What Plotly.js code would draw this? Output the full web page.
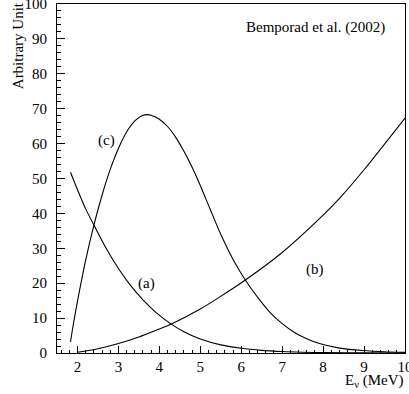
<!DOCTYPE html>
<html>
<head>
<meta charset="utf-8">
<script src="https://cdn.plot.ly/plotly-3.0.1.min.js"></script>
<style>html,body{margin:0;padding:0;background:#fff;}#chart{width:409px;height:394px;}</style>
</head>
<body>
<div id="chart"></div>
<script>
// Curve (a)
const aX = [1.83, 2.0, 2.2, 2.43, 2.7, 3.0, 3.3, 3.6, 3.9, 4.3, 4.6, 5.0, 5.5, 6.0, 6.5, 7.0, 7.5, 8.0, 9.0, 10.0];
const aY = [51.8, 46.8, 41.3, 36.0, 30.0, 24.2, 19.3, 15.2, 11.8, 8.2, 6.1, 4.0, 2.33, 1.35, 0.76, 0.42, 0.23, 0.12, 0.035, 0.01];
// Curve (b)
const bX = [2.0, 2.5, 3.0, 3.5, 4.0, 4.31, 5.0, 5.47, 6.1, 7.0, 8.0, 8.4, 9.0, 10.0];
const bY = [0.2, 1.2, 2.7, 4.6, 6.9, 8.4, 12.6, 16.0, 20.9, 28.8, 39.5, 44.3, 52.5, 67.3];
// Curve (c)
const cX = [1.83, 1.9, 2.0, 2.2, 2.4, 2.6, 2.8, 3.0, 3.2, 3.4, 3.6, 3.7, 3.8, 4.0, 4.2, 4.4, 4.6, 4.8, 5.0, 5.23, 5.5, 5.8, 6.1, 6.45, 6.69, 7.0, 7.3, 7.6, 7.91, 8.4, 8.97, 9.5, 10.0];
const cY = [3.2, 8.3, 14.8, 26.6, 36.6, 45.2, 52.6, 58.6, 63.3, 66.5, 68.1, 68.3, 68.1, 67.0, 64.9, 61.8, 57.8, 53.2, 48.0, 41.5, 34.0, 26.8, 20.9, 15.2, 11.8, 8.4, 5.9, 4.1, 2.7, 1.4, 0.7, 0.35, 0.18];
// Tick labels
const xTicks = [2, 3, 4, 5, 6, 7, 8, 9, 10];
const yTicks = [0, 10, 20, 30, 40, 50, 60, 70, 80, 90, 100];
// Texts
const labels = [
  {text: "Bemporad et al. (2002)", x: 7.81, y: 93.4},
  {text: "(c)", x: 2.72, y: 61},
  {text: "(a)", x: 3.69, y: 20},
  {text: "(b)", x: 7.79, y: 23.8}
];

const FONT = "Liberation Serif";
const lineStyle = {color: "#000", width: 1.1, shape: "spline", smoothing: 0.8};

const traces = [
  {x: aX, y: aY, mode: "lines", line: lineStyle, hoverinfo: "skip"},
  {x: bX, y: bY, mode: "lines", line: lineStyle, hoverinfo: "skip"},
  {x: cX, y: cY, mode: "lines", line: lineStyle, hoverinfo: "skip"}
];

const ann = labels.map(l => ({
  text: l.text, x: l.x, y: l.y, xref: "x", yref: "y", showarrow: false,
  font: {family: FONT, size: 15, color: "#000"}
}));
ann.push({
  text: "Arbitrary Unit", xref: "paper", yref: "paper", x: -0.11, y: 1.0115,
  xanchor: "center", yanchor: "top", textangle: -90, showarrow: false,
  font: {family: FONT, size: 15, color: "#000"}
});
ann.push({
  text: "E<sub>ν</sub> (MeV)", xref: "paper", yref: "paper", x: 1.003, y: -0.05,
  xanchor: "right", yanchor: "top", showarrow: false,
  font: {family: FONT, size: 15, color: "#000"}
});

const axisCommon = {
  tickwidth: 1, tickcolor: "#000", ticks: "inside",
  showline: true, linecolor: "#000", linewidth: 1, mirror: true,
  showgrid: false, zeroline: false, fixedrange: true,
  ticklabeloverflow: "allow",
  tickfont: {family: FONT, size: 15, color: "#000"}
};

const layout = {
  width: 409, height: 394,
  margin: {l: 57, r: 3.5, t: 4, b: 41},
  paper_bgcolor: "#fff", plot_bgcolor: "#fff",
  showlegend: false,
  font: {family: FONT, size: 15, color: "#000"},
  xaxis: Object.assign({}, axisCommon, {
    range: [1.5, 10], tickvals: xTicks, ticktext: xTicks.map(String), ticklen: 7,
    minor: {ticks: "inside", ticklen: 3.5, dtick: 0.2, tick0: 0, tickcolor: "#000", tickwidth: 1}
  }),
  yaxis: Object.assign({}, axisCommon, {
    range: [0, 100], tickvals: yTicks, ticktext: yTicks.map(String), ticklen: 8,
    ticklabelstandoff: 6,
    minor: {ticks: "inside", ticklen: 4, dtick: 2, tick0: 0, tickcolor: "#000", tickwidth: 1}
  }),
  annotations: ann
};

Plotly.newPlot("chart", traces, layout, {staticPlot: true, displayModeBar: false});
</script>
</body>
</html>
